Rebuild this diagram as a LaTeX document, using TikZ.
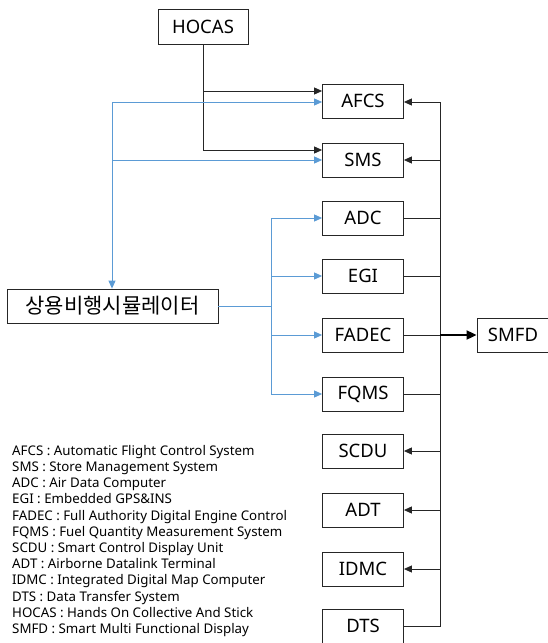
\documentclass[tikz,border=0pt]{standalone}
\usepackage{fontspec}
\setmainfont{Noto Sans}
\newfontfamily\kr{Noto Sans CJK KR}
\usetikzlibrary{arrows.meta,calc}
\definecolor{lblue}{RGB}{91,155,213}
\begin{document}
\begin{tikzpicture}[x=1pt,y=-1pt,
  box/.style={draw=black!85,line width=0.8pt,minimum width=81pt,minimum height=34pt,inner sep=0pt,font=\fontsize{18.5}{18.5}\selectfont},
  bl/.style={draw=black!85,line width=0.9pt},
  bla/.style={bl,-{Triangle[length=8pt,width=7pt]}},
  bu/.style={draw=lblue,line width=0.9pt},
  bua/.style={bu,-{Triangle[length=8pt,width=7pt]}},
]
\useasboundingbox (0,0) rectangle (548,643);
\clip (0,0) rectangle (548,643);
% nodes
\node[box,minimum width=90pt,minimum height=35pt] (HOCAS) at (203,26.5) {HOCAS};
\node[box] (AFCS) at (363,101) {AFCS};
\node[box] (SMS) at (363,160) {SMS};
\node[box] (ADC) at (363,218) {ADC};
\node[box] (EGI) at (363,276) {EGI};
\node[box] (FADEC) at (363,335) {FADEC};
\node[box] (FQMS) at (363,394) {FQMS};
\node[box] (SCDU) at (363,451) {SCDU};
\node[box] (ADT) at (363,510) {ADT};
\node[box] (IDMC) at (363,569) {IDMC};
\node[box] (DTS) at (363,626) {DTS};
\node[box,minimum width=211pt,font=\kr\fontsize{21}{21}\selectfont] (SIM) at (112.5,306) {상용비행시뮬레이터};
\node[box,minimum width=72pt] (SMFD) at (513,335) {SMFD};
% HOCAS connectors
\draw[bla] (HOCAS.south) |- ($(AFCS.west)+(0,-10)$);
\draw[bla] (HOCAS.south) |- ($(SMS.west)+(0,-10)$);
% blue connectors
\coordinate (bt) at (112,102);
\draw[bua] (bt) -- (bt -| AFCS.west);
\draw[bua] (bt) -- (bt |- SIM.north);
\draw[bua] (bt |- SMS.west) -- (SMS.west);
\coordinate (j) at (271,306);
\draw[bu] (SIM.east) -- (j);
\draw[bua] (j) |- (ADC.west);
\draw[bua] (j) |- (EGI.west);
\draw[bua] (j) |- (FADEC.west);
\draw[bua] (j) |- (FQMS.west);
% bus
\coordinate (bus) at (440,102);
\draw[bla] (bus) -- (bus -| AFCS.east);
\draw[bl] (bus) -- (bus |- DTS.east) -- (DTS.east);
\draw[bla] (bus |- SMS.east) -- (SMS.east);
\draw[bl] (ADC.east) -- (bus |- ADC.east);
\draw[bl] (EGI.east) -- (bus |- EGI.east);
\draw[bl] (FADEC.east) -- (bus |- FADEC.east);
\draw[bl] (FQMS.east) -- (bus |- FQMS.east);
\draw[bla] (bus |- SCDU.east) -- (SCDU.east);
\draw[bla] (bus |- ADT.east) -- (ADT.east);
\draw[bla] (bus |- IDMC.east) -- (IDMC.east);
\draw[draw=black,line width=1.8pt,-{Triangle[length=10pt,width=9pt]}] (bus |- SMFD.west) -- (SMFD.west);
% legend
\node[anchor=north west,align=left,inner sep=0pt,font=\fontsize{13.3}{16.2}\selectfont] (leg) at (12,445) {AFCS : Automatic Flight Control System\\
SMS : Store Management System\\
ADC : Air Data Computer\\
EGI : Embedded GPS\&INS\\
FADEC : Full Authority Digital Engine Control\\
FQMS : Fuel Quantity Measurement System\\
SCDU : Smart Control Display Unit\\
ADT : Airborne Datalink Terminal\\
IDMC : Integrated Digital Map Computer\\
DTS : Data Transfer System\\
HOCAS : Hands On Collective And Stick\\
SMFD : Smart Multi Functional Display};
\end{tikzpicture}
\end{document}
